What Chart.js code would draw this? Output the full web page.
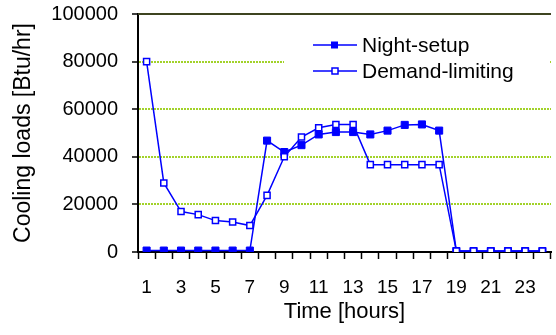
<!DOCTYPE html>
<html>
<head>
<meta charset="utf-8">
<script src="https://cdn.jsdelivr.net/npm/chart.js@4"></script>
<style>
  html, body { margin: 0; padding: 0; background: #fff; overflow: hidden; }
  #wrap { width: 557px; height: 335px; position: relative; }
</style>
</head>
<body>
<div id="wrap"><canvas id="chart"></canvas></div>
<script>
const hours = ["1","2","3","4","5","6","7","8","9","10","11","12",
               "13","14","15","16","17","18","19","20","21","22","23","24"];
const nightSetup = [600, 600, 600, 600, 600, 600, 600, 46800, 42000, 44900, 49400, 50400,
                    50400, 49400, 51000, 53400, 53600, 51000, 400, 400, 400, 400, 400, 400];
const demandLimiting = [80000, 29000, 17000, 15700, 13200, 12600, 11100, 23800, 40000, 48300, 52200, 53600,
                        53600, 36700, 36700, 36700, 36700, 36700, 400, 400, 400, 400, 400, 400];
const yTicks = [0, 20000, 40000, 60000, 80000, 100000];

const BLUE = "#0000ff";
const FONT = "'Liberation Sans', Arial, sans-serif";

// legend box with line + marker samples, plus the dark top rule
const overlay = {
  id: "overlay",
  afterDraw(chart) {
    const ctx = chart.ctx;
    const y = chart.scales.y;
    const area = chart.chartArea;
    const top = y.getPixelForValue(yTicks[yTicks.length - 1]);

    ctx.save();
    ctx.strokeStyle = "#3d4420";
    ctx.lineWidth = 2;
    ctx.beginPath();
    ctx.moveTo(area.left, top);
    ctx.lineTo(area.right, top);
    ctx.stroke();

    ctx.fillStyle = "#fff";
    ctx.fillRect(284, 28, 266, 62);

    const items = [
      { text: "Night-setup", filled: true, y: 45 },
      { text: "Demand-limiting", filled: false, y: 71 }
    ];
    ctx.font = "21px " + FONT;
    ctx.textBaseline = "middle";
    items.forEach((it) => {
      ctx.strokeStyle = BLUE;
      ctx.lineWidth = 1.5;
      ctx.beginPath();
      ctx.moveTo(313, it.y);
      ctx.lineTo(357, it.y);
      ctx.stroke();
      if (it.filled) {
        ctx.fillStyle = BLUE;
        ctx.fillRect(331, it.y - 3.5, 7, 7);
      } else {
        ctx.fillStyle = "#fff";
        ctx.fillRect(332, it.y - 3, 6, 6);
        ctx.strokeRect(332, it.y - 3, 6, 6);
      }
      ctx.fillStyle = "#000";
      ctx.fillText(it.text, 362, it.y + 1);
    });
    ctx.restore();
  }
};

new Chart(document.getElementById("chart"), {
  type: "line",
  data: {
    labels: hours,
    datasets: [
      {
        label: "Demand-limiting",
        data: demandLimiting,
        borderColor: BLUE,
        borderWidth: 1.5,
        pointStyle: "rect",
        pointRadius: 4.3,
        pointBackgroundColor: "#fff",
        pointBorderColor: BLUE,
        pointBorderWidth: 1.5,
        tension: 0
      },
      {
        label: "Night-setup",
        data: nightSetup,
        borderColor: BLUE,
        borderWidth: 1.5,
        pointStyle: "rect",
        pointRadius: 5,
        pointBackgroundColor: BLUE,
        pointBorderColor: BLUE,
        pointBorderWidth: 1,
        tension: 0
      }
    ]
  },
  options: {
    responsive: true,
    maintainAspectRatio: false,
    animation: false,
    layout: { padding: { top: 14, right: 0, left: 0, bottom: 0 } },
    plugins: {
      legend: { display: false },
      tooltip: { enabled: false }
    },
    scales: {
      x: {
        offset: true,
        grid: {
          offset: true,
          drawOnChartArea: false,
          tickLength: 7,
          tickColor: "#000",
          tickWidth: 1.5
        },
        border: { display: true, color: "#000", width: 2 },
        ticks: {
          autoSkip: false,
          maxRotation: 0,
          padding: 17,
          color: "#000",
          font: { family: FONT, size: 19 },
          callback: (v, i) => (i % 2 === 0 ? hours[i] : "")
        },
        title: {
          display: true,
          text: "Time [hours]",
          color: "#000",
          font: { family: FONT, size: 22 },
          padding: { top: 2, bottom: 10 }
        },
        afterFit: (s) => { s.height = 83; s.paddingLeft = 0; s.paddingRight = 0; }
      },
      y: {
        min: 0,
        max: 100000,
        afterBuildTicks: (s) => { s.ticks = yTicks.map((v) => ({ value: v })); },
        grid: {
          color: "#a2d22a",
          lineWidth: 2,
          tickColor: "#000",
          tickLength: 6,
          tickWidth: 1.5
        },
        border: { display: true, color: "#000", width: 2, dash: [2, 1] },
        ticks: {
          padding: 14,
          color: "#000",
          font: { family: FONT, size: 20 },
          callback: (v) => String(v)
        },
        title: {
          display: true,
          text: "Cooling loads [Btu/hr]",
          color: "#000",
          font: { family: FONT, size: 23 },
          padding: { top: 10, bottom: 0 }
        },
        afterFit: (s) => { s.width = 138; s.paddingTop = 0; s.paddingBottom = 0; }
      }
    }
  },
  plugins: [overlay]
});
</script>
</body>
</html>
